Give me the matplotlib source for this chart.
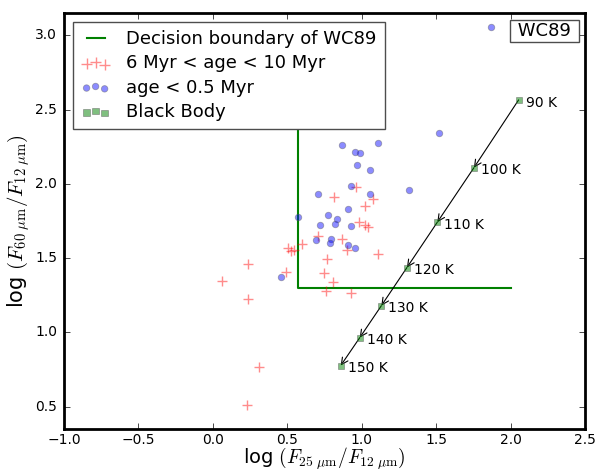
import matplotlib
matplotlib.use("Agg")
import matplotlib.pyplot as plt

plt.style.use('classic')

# ---- data ----
young_x = [0.870, 1.107, 0.955, 0.991, 0.969, 1.054, 0.928, 0.703, 1.056,
           0.911, 0.772, 0.834, 0.570, 0.821, 0.720, 0.931, 0.794, 0.696,
           0.787, 0.906, 0.955, 0.459, 1.866, 1.517, 1.320]
young_y = [2.263, 2.272, 2.213, 2.211, 2.129, 2.093, 1.988, 1.932, 1.932,
           1.834, 1.793, 1.762, 1.780, 1.730, 1.721, 1.717, 1.632, 1.619,
           1.603, 1.589, 1.569, 1.372, 3.059, 2.339, 1.961]

old_x = [0.960, 0.812, 1.079, 1.025, 0.980, 1.025, 1.042, 1.110, 0.870,
         0.901, 0.767, 0.745, 0.808, 0.758, 0.926, 0.709, 0.602, 0.505,
         0.525, 0.545, 0.492, 0.235, 0.063, 0.239, 0.311, 0.230]
old_y = [1.981, 1.914, 1.901, 1.850, 1.740, 1.726, 1.710, 1.529, 1.632,
         1.558, 1.493, 1.401, 1.339, 1.281, 1.267, 1.648, 1.594, 1.570,
         1.548, 1.555, 1.408, 1.460, 1.346, 1.227, 0.764, 0.513]

bb_x = [2.054, 1.754, 1.508, 1.304, 1.132, 0.987, 0.859]
bb_y = [2.565, 2.109, 1.742, 1.437, 1.180, 0.965, 0.777]
bb_labels = ['90 K', '100 K', '110 K', '120 K', '130 K', '140 K', '150 K']

boundary_x = [0.57, 0.57, 2.0]
boundary_y = [3.0, 1.30, 1.30]

# ---- figure ----
fig = plt.figure(figsize=(5.97, 4.72), dpi=100, facecolor='white')
ax = fig.add_axes([64/597, 1-429/472, 521/597, 416/472])

ax.plot(boundary_x, boundary_y, color='g', lw=1.5, label='Decision boundary of WC89', zorder=2)
ax.scatter(old_x, old_y, marker='+', s=60, c='r', alpha=0.45, lw=1,
           label='6 Myr < age < 10 Myr', zorder=3)
ax.scatter(young_x, young_y, marker='o', s=22, facecolor='b', edgecolor='0.35',
           alpha=0.45, lw=0.6, label='age < 0.5 Myr', zorder=3)
ax.scatter(bb_x, bb_y, marker='s', s=22, facecolor='g', edgecolor='0.35',
           alpha=0.5, lw=0.6, label='Black Body', zorder=4)

for i in range(len(bb_x) - 1):
    ax.annotate('', xy=(bb_x[i+1], bb_y[i+1]), xytext=(bb_x[i], bb_y[i]),
                arrowprops=dict(arrowstyle='->', color='k', lw=0.8,
                                shrinkA=0, shrinkB=0))
for x, y, t in zip(bb_x, bb_y, bb_labels):
    ax.annotate(t, xy=(x, y), xytext=(5, -2), textcoords='offset points',
                ha='left', va='center', fontsize=10)

ax.set_xlim(-1.0, 2.5)
ax.set_ylim(0.35, 3.15)
ax.set_xticks([-1.0, -0.5, 0.0, 0.5, 1.0, 1.5, 2.0, 2.5])
ax.set_yticks([0.5, 1.0, 1.5, 2.0, 2.5, 3.0])
ax.tick_params(axis='x', labelsize=10, pad=3)
ax.tick_params(axis='y', labelsize=10, pad=5)
for sp in ax.spines.values():
    sp.set_linewidth(2)

ax.set_xlabel(r'log $(F_{25\ \mu \rm m}/F_{12\ \mu \rm m})$', fontsize=14, labelpad=-1)
ax.set_ylabel(r'log $(F_{60\ \mu \rm m}/F_{12\ \mu \rm m})$', fontsize=15, labelpad=2)

leg = ax.legend(loc='upper left', fontsize=13, scatterpoints=3, numpoints=3,
                fancybox=False, frameon=True, labelspacing=0.35,
                borderaxespad=0.5, handlelength=1.6, handletextpad=0.9,
                borderpad=0.45)
leg.get_frame().set_edgecolor('0.3')

ax.text(0.984, 0.978, ' WC89 ', transform=ax.transAxes, ha='right', va='top',
        fontsize=13, bbox=dict(facecolor='white', edgecolor='0.3', boxstyle='square,pad=0.12'))

fig.savefig('out.png', dpi=100, facecolor='white')
